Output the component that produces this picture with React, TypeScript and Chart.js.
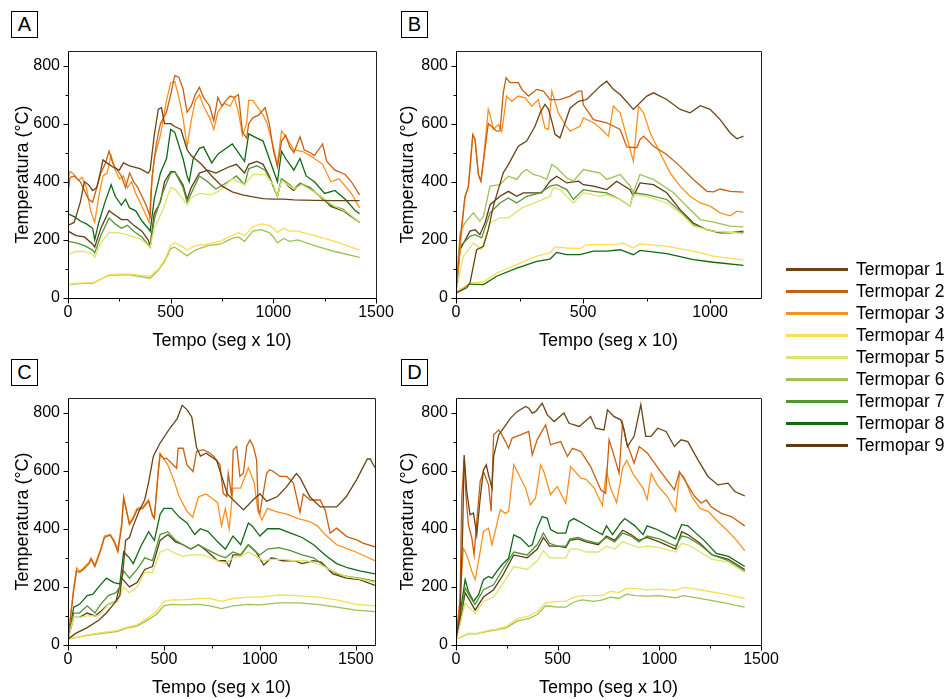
import React, { useEffect, useRef } from 'react';
import { Chart, registerables } from 'chart.js';
Chart.register(...registerables);

type Pt = [number, number];

const SERIES_NAMES = ['Termopar 1', 'Termopar 2', 'Termopar 3', 'Termopar 4', 'Termopar 5', 'Termopar 6', 'Termopar 7', 'Termopar 8', 'Termopar 9'];
const SERIES_COLORS = ['#6B4416', '#C8600F', '#FA911E', '#FFDC50', '#DCE46E', '#9BC355', '#509632', '#0F6914', '#5F3C14'];

const Y_MAJOR = [0, 200, 400, 600, 800];
const Y_MINOR = [100, 300, 500, 700];
const X_LABEL = 'Tempo (seg x 10)';
const Y_LABEL = 'Temperatura (°C)';

// ---------- Panel A ----------
const A_T1: Pt[] = [[0,250],[30,260],[60,330],[80,400],[100,390],[120,370],[140,380],[160,440],[170,475],[190,465],[220,450],[250,440],[270,465],[300,455],[350,445],[390,430],[400,440],[420,560],[440,650],[455,655],[470,600],[500,600],[520,590],[550,580],[580,510],[600,490],[650,460],[700,420],[750,385],[800,365],[850,355],[900,348],[950,342],[1000,340],[1050,340],[1100,338],[1200,336],[1300,335],[1420,335]];
const A_T2: Pt[] = [[0,360],[10,415],[30,420],[60,400],[80,370],[100,340],[120,330],[140,380],[160,430],[180,460],[200,505],[220,460],[240,440],[260,420],[280,380],[300,430],[320,400],[340,380],[360,350],[380,320],[400,280],[410,420],[430,530],[450,600],[480,640],[500,700],[520,765],[540,760],[560,720],[580,640],[600,660],[620,700],[640,725],[660,690],[690,660],[710,610],[730,690],[750,660],[770,680],[790,695],[810,690],[830,700],[850,570],[870,550],[880,600],[900,620],[930,630],[960,655],[980,600],[1000,510],[1020,450],[1040,540],[1060,560],[1080,520],[1100,500],[1130,555],[1150,510],[1180,500],[1200,490],[1240,530],[1260,470],[1300,440],[1350,425],[1380,400],[1420,355]];
const A_T3: Pt[] = [[0,410],[10,435],[30,425],[50,405],[70,415],[90,380],[110,300],[130,260],[150,350],[170,420],[190,430],[210,490],[230,440],[250,410],[270,420],[290,380],[310,400],[330,360],[350,330],[370,300],[395,260],[405,380],[420,480],[450,560],[480,680],[500,740],[520,745],[540,690],[560,620],[580,520],[600,610],[620,680],[640,700],[660,660],[690,620],[710,580],[730,640],[760,670],[790,660],[810,690],[830,640],[850,560],[870,600],[880,680],[900,680],[930,650],[950,630],[970,600],[1000,520],[1020,460],[1040,575],[1060,555],[1100,510],[1140,505],[1180,490],[1200,480],[1240,460],[1280,400],[1320,410],[1380,360],[1420,310]];
const A_T4: Pt[] = [[0,45],[30,50],[80,52],[120,52],[160,65],[200,80],[250,82],[300,82],[360,78],[400,75],[440,100],[470,130],[500,180],[520,190],[560,175],[580,165],[620,180],[680,185],[740,195],[800,215],[830,225],[860,215],[900,245],[940,255],[980,250],[1000,240],[1020,225],[1050,240],[1080,230],[1120,230],[1200,215],[1300,195],[1420,165]];
const A_T5: Pt[] = [[0,150],[40,160],[80,160],[120,150],[130,140],[160,190],[200,225],[240,225],[280,220],[320,210],[360,200],[400,175],[420,240],[460,300],[500,380],[520,375],[560,340],[580,320],[600,345],[640,360],[700,355],[740,370],[800,410],[860,390],[900,425],[960,425],[1000,390],[1020,350],[1040,405],[1080,385],[1100,375],[1140,390],[1200,365],[1260,335],[1300,315],[1360,295],[1420,260]];
const A_T6: Pt[] = [[0,45],[30,48],[80,50],[120,50],[160,65],[200,78],[250,80],[300,80],[360,73],[400,68],[440,95],[470,125],[500,170],[520,175],[560,155],[580,145],[620,165],[680,180],[740,185],[800,205],[830,210],[860,195],[900,230],[940,235],[980,225],[1000,210],[1020,190],[1050,205],[1080,195],[1120,200],[1200,180],[1300,160],[1420,140]];
const A_T7: Pt[] = [[0,195],[40,190],[80,180],[120,165],[130,155],[160,215],[200,275],[230,255],[260,240],[290,250],[320,230],[360,210],[400,175],[420,270],[460,360],[500,430],[520,435],[560,380],[580,330],[600,360],[640,420],[680,400],[720,375],[780,400],[820,420],[860,390],[880,445],[920,455],[960,440],[990,400],[1020,350],[1040,410],[1080,390],[1100,375],[1130,395],[1180,380],[1240,340],[1280,320],[1340,305],[1420,260]];
const A_T8: Pt[] = [[0,290],[30,280],[60,265],[90,255],[120,240],[130,200],[150,260],[180,330],[210,390],[230,350],[260,320],[280,340],[300,310],[330,300],[360,265],[390,240],[400,230],[420,340],[450,430],[480,480],[500,580],[520,570],[560,480],[580,420],[590,400],[610,480],[640,515],[660,520],[700,465],[730,495],[760,510],[800,530],[840,490],[860,470],[880,565],[920,550],[950,540],[990,460],[1020,400],[1040,505],[1060,480],[1100,440],[1130,480],[1160,420],[1200,400],[1250,360],[1300,370],[1350,340],[1400,300],[1420,290]];
const A_T9: Pt[] = [[0,230],[40,215],[80,210],[120,185],[130,175],[160,240],[200,300],[230,285],[260,270],[290,270],[320,250],[360,230],[390,200],[400,180],[420,290],[450,330],[470,400],[500,435],[520,435],[560,390],[580,340],[600,380],[640,430],[680,440],[720,430],[780,450],[820,460],[860,430],[880,460],[920,470],[950,460],[980,420],[1020,350],[1040,410],[1080,380],[1100,370],[1130,395],[1180,375],[1240,345],[1280,315],[1340,300],[1420,260]];

// ---------- Panel B ----------
const B_T1: Pt[] = [[0,17],[42,35],[55,52],[68,109],[81,166],[108,178],[127,235],[147,316],[186,431],[206,459],[245,522],[278,540],[311,591],[331,637],[350,666],[364,649],[377,608],[390,563],[409,551],[429,603],[449,654],[482,677],[514,683],[567,729],[593,746],[619,718],[646,700],[698,649],[751,695],[777,706],[829,683],[882,649],[921,637],[961,662],[1000,649],[1039,614],[1079,568],[1105,548],[1131,557]];
const B_T2: Pt[] = [[0,20],[16,200],[35,345],[49,385],[66,562],[75,545],[88,425],[98,402],[108,470],[127,600],[140,590],[160,574],[173,575],[186,706],[197,758],[213,741],[245,741],[259,718],[285,695],[318,718],[344,712],[370,683],[409,683],[449,695],[482,712],[495,712],[501,665],[541,614],[593,603],[646,580],[672,520],[711,517],[724,545],[738,557],[777,522],[829,494],[882,453],[934,408],[987,367],[1013,365],[1039,375],[1079,367],[1131,364]];
const B_T3: Pt[] = [[0,20],[16,166],[35,350],[49,385],[66,562],[75,545],[88,425],[98,402],[108,476],[127,649],[134,631],[147,580],[167,597],[180,574],[199,695],[219,677],[245,695],[272,689],[298,660],[324,683],[350,585],[364,580],[377,712],[403,637],[429,597],[449,574],[488,591],[501,620],[541,603],[567,585],[600,557],[619,660],[646,637],[685,511],[698,470],[718,660],[738,637],[764,568],[803,499],[843,430],[882,385],[921,350],[961,327],[1000,316],[1039,293],[1079,283],[1105,299],[1131,295]];
const B_T4: Pt[] = [[0,20],[55,52],[108,55],[160,86],[239,115],[318,144],[370,155],[390,176],[436,172],[488,170],[514,184],[619,184],[659,189],[698,172],[724,186],[829,178],[934,161],[1013,144],[1131,130]];
const B_T5: Pt[] = [[0,20],[29,144],[68,189],[101,166],[134,258],[173,276],[206,276],[259,310],[291,321],[331,335],[370,350],[383,380],[409,373],[462,327],[501,362],[567,350],[593,356],[646,339],[685,316],[698,356],[751,350],[829,327],[882,293],[934,247],[1013,230],[1131,222]];
const B_T6: Pt[] = [[0,20],[16,224],[35,258],[68,293],[94,264],[108,281],[134,385],[173,390],[206,419],[239,408],[259,431],[278,442],[304,425],[331,419],[357,408],[377,459],[396,448],[436,413],[462,402],[501,442],[567,430],[593,408],[646,425],[685,385],[698,364],[724,425],[777,408],[856,362],[908,316],[961,270],[1013,261],[1079,247],[1131,245]];
const B_T7: Pt[] = [[0,20],[16,178],[55,212],[75,218],[101,207],[134,293],[173,327],[206,344],[239,327],[278,350],[331,362],[370,385],[396,390],[436,373],[462,339],[501,373],[541,367],[593,362],[646,339],[685,316],[698,362],[751,356],[829,339],[882,299],[934,253],[987,235],[1039,226],[1131,226]];
const B_T8: Pt[] = [[0,20],[55,48],[108,46],[160,75],[239,103],[318,126],[370,134],[396,157],[436,149],[488,149],[541,161],[593,161],[646,166],[698,149],[724,164],[829,153],[934,132],[1013,123],[1131,112]];
const B_T9: Pt[] = [[0,20],[16,166],[55,230],[75,235],[94,218],[114,258],[134,321],[173,350],[206,367],[239,350],[265,362],[304,362],[337,362],[370,402],[396,419],[436,396],[482,402],[501,390],[541,385],[593,373],[632,402],[685,373],[698,350],[724,396],[777,390],[829,362],[882,304],[934,258],[987,235],[1039,224],[1079,224],[1131,230]];

// ---------- Panel C ----------
const C_T1: Pt[] = [[0,20],[40,40],[100,60],[160,85],[200,110],[250,150],[270,170],[290,280],[300,360],[320,370],[340,410],[370,460],[400,500],[420,560],[445,650],[480,695],[530,745],[570,780],[595,825],[620,810],[645,785],[670,680],[690,650],[720,660],[775,635],[830,520],[860,500],[915,465],[965,500],[1000,520],[1035,495],[1090,510],[1140,545],[1190,590],[1210,575],[1260,510],[1315,475],[1400,475],[1450,510],[1505,570],[1560,640],[1575,640],[1600,610]];
const C_T2: Pt[] = [[0,20],[30,190],[45,255],[60,250],[80,260],[110,280],[120,295],[140,270],[170,325],[190,370],[220,378],[240,355],[260,320],[280,410],[290,505],[300,475],[320,415],[340,435],[360,465],[390,470],[420,495],[440,445],[450,435],[470,590],[480,655],[500,640],[513,643],[566,608],[574,677],[600,677],[620,620],[652,597],[670,666],[705,672],[740,660],[760,649],[792,620],[809,522],[827,511],[835,591],[853,511],[861,672],[879,683],[896,580],[914,591],[931,683],[948,706],[966,683],[983,637],[992,465],[1000,453],[1035,591],[1052,603],[1070,597],[1105,580],[1140,580],[1175,557],[1209,456],[1226,520],[1262,499],[1314,499],[1340,465],[1366,385],[1400,402],[1453,373],[1505,362],[1540,350],[1600,338]];
const C_T3: Pt[] = [[0,20],[30,200],[45,265],[60,255],[80,265],[110,285],[120,300],[140,275],[170,330],[190,375],[220,380],[240,360],[260,330],[280,420],[290,510],[300,480],[320,420],[340,440],[360,470],[390,475],[420,500],[440,450],[450,440],[470,600],[480,660],[500,640],[520,620],[550,570],[580,510],[620,460],[650,440],[680,510],[720,520],[750,505],[780,490],[800,410],[820,470],[840,400],[860,540],[900,540],[940,610],[970,560],[990,460],[1010,430],[1040,470],[1080,460],[1140,450],[1200,435],[1260,425],[1300,410],[1340,380],[1400,345],[1440,335],[1500,320],[1600,290]];
const C_T4: Pt[] = [[0,20],[100,35],[200,45],[260,50],[300,60],[360,70],[420,95],[460,115],[500,150],[540,155],[600,155],[680,160],[740,160],[800,150],[860,160],[940,165],[1000,165],[1100,172],[1200,170],[1300,165],[1400,155],[1500,140],[1600,135]];
const C_T5: Pt[] = [[0,20],[30,95],[60,95],[100,100],[160,100],[210,140],[260,150],[290,200],[320,180],[360,200],[400,250],[440,250],[480,320],[520,330],[560,315],[600,305],[640,310],[700,310],[780,290],[820,280],[860,300],[900,305],[940,320],[980,305],[1020,290],[1060,295],[1120,295],[1180,290],[1240,290],[1300,280],[1380,255],[1450,235],[1520,228],[1600,215]];
const C_T6: Pt[] = [[0,20],[100,33],[200,42],[260,47],[300,57],[360,65],[420,88],[460,105],[500,135],[540,140],[600,138],[680,140],[740,135],[800,125],[860,135],[940,140],[1000,138],[1100,145],[1200,145],[1300,140],[1400,130],[1500,120],[1600,115]];
const C_T7: Pt[] = [[0,20],[30,110],[60,110],[100,135],[140,110],[170,140],[210,170],[250,180],[270,200],[290,255],[320,230],[360,260],[400,300],[440,290],[480,380],[520,390],[560,360],[600,345],[640,330],[680,345],[720,330],[780,310],[820,300],[860,320],[900,310],[940,345],[980,320],[1000,310],[1040,330],[1100,335],[1160,325],[1220,310],[1280,300],[1340,270],[1400,245],[1460,235],[1520,230],[1600,220]];
const C_T8: Pt[] = [[0,20],[30,130],[60,140],[100,170],[130,175],[160,200],[200,230],[240,215],[270,210],[290,320],[320,300],[340,280],[380,340],[420,390],[450,360],[480,450],[500,470],[540,470],[580,440],[620,420],[660,380],[690,400],[730,390],[780,355],[820,330],[860,375],[900,345],[940,420],[960,410],[1000,375],[1040,400],[1100,400],[1160,385],[1220,370],[1280,345],[1340,310],[1400,280],[1460,265],[1520,255],[1600,245]];
const C_T9: Pt[] = [[0,20],[30,95],[60,95],[100,110],[140,100],[170,115],[210,140],[250,150],[280,230],[320,200],[360,215],[400,260],[440,270],[480,360],[520,380],[560,355],[600,345],[640,330],[680,345],[720,325],[780,290],[820,290],[840,270],[860,310],[900,310],[940,345],[980,320],[1020,275],[1060,300],[1120,290],[1180,290],[1220,280],[1280,290],[1320,285],[1380,245],[1450,230],[1520,225],[1600,205]];

// ---------- Panel D ----------
const D_T1: Pt[] = [[0,20],[20,100],[33,400],[40,654],[53,528],[69,448],[86,454],[102,379],[119,505],[135,602],[149,620],[160,585],[177,540],[185,649],[210,723],[234,746],[267,780],[300,803],[342,821],[358,815],[375,798],[391,803],[424,832],[449,792],[482,769],[531,798],[556,763],[606,752],[662,786],[687,746],[728,740],[745,809],[778,786],[810,775],[827,740],[843,683],[876,718],[909,827],[933,718],[959,718],[992,746],[1033,735],[1074,683],[1107,706],[1140,700],[1190,637],[1239,580],[1288,551],[1338,557],[1371,528],[1420,513]];
const D_T2: Pt[] = [[0,20],[20,150],[28,505],[40,642],[50,505],[61,414],[78,368],[89,311],[102,425],[119,563],[135,597],[160,551],[173,460],[185,723],[210,740],[226,723],[243,700],[259,677],[276,712],[317,723],[358,735],[375,654],[399,706],[441,758],[465,689],[515,700],[548,649],[573,677],[614,666],[662,614],[712,534],[736,522],[753,706],[778,649],[802,591],[819,764],[835,706],[876,626],[901,683],[942,660],[1000,603],[1074,534],[1099,597],[1124,568],[1174,511],[1206,488],[1231,499],[1255,476],[1305,453],[1354,442],[1420,410]];
const D_T3: Pt[] = [[0,20],[20,162],[36,333],[53,310],[78,253],[94,225],[119,322],[135,391],[160,402],[177,345],[218,465],[243,453],[259,460],[284,620],[309,586],[342,540],[366,482],[391,505],[416,620],[432,597],[465,517],[498,545],[540,488],[564,614],[614,574],[640,570],[680,540],[720,480],[740,600],[760,540],[790,490],[820,610],[840,635],[870,590],[920,540],[940,500],[960,590],[990,550],[1040,510],[1080,460],[1100,590],[1120,580],[1160,510],[1200,470],[1240,460],[1280,430],[1340,390],[1380,360],[1420,325]];
const D_T4: Pt[] = [[0,20],[60,40],[100,40],[160,50],[200,55],[250,65],[300,90],[360,100],[400,115],[440,145],[500,150],[540,150],[580,165],[620,170],[680,170],[720,170],[760,185],[800,180],[840,195],[880,195],[940,190],[1000,192],[1080,188],[1120,198],[1160,195],[1240,185],[1320,175],[1420,160]];
const D_T5: Pt[] = [[0,20],[20,70],[45,145],[70,125],[94,110],[135,150],[185,165],[234,215],[284,270],[350,260],[400,290],[430,325],[460,300],[500,300],[540,300],[560,330],[600,330],[640,320],[700,320],[740,340],[780,330],[820,355],[860,345],[900,335],[940,340],[1000,335],[1080,320],[1110,350],[1140,345],[1200,320],[1260,295],[1340,285],[1420,250]];
const D_T6: Pt[] = [[0,20],[60,38],[100,38],[160,48],[200,52],[250,60],[300,82],[360,92],[400,105],[440,135],[500,130],[540,130],[580,148],[620,155],[680,150],[720,155],[760,165],[800,160],[840,175],[880,170],[940,168],[1000,170],[1080,162],[1120,170],[1160,165],[1240,155],[1320,145],[1420,130]];
const D_T7: Pt[] = [[0,20],[20,90],[45,196],[70,165],[94,139],[135,190],[185,207],[234,265],[284,320],[350,310],[399,345],[430,385],[460,350],[498,340],[540,340],[560,365],[600,370],[640,360],[700,350],[740,370],[780,355],[820,385],[860,375],[900,355],[940,375],[1000,365],[1080,340],[1110,375],[1140,370],[1200,345],[1260,310],[1340,290],[1420,255]];
const D_T8: Pt[] = [[0,20],[20,104],[45,225],[61,185],[86,150],[111,173],[135,225],[160,236],[177,230],[201,253],[226,276],[259,299],[284,379],[317,368],[358,339],[375,345],[399,402],[424,442],[449,436],[465,397],[498,385],[540,385],[556,425],[580,435],[620,420],[680,395],[720,380],[740,410],[770,380],[810,420],[830,435],[880,410],[920,380],[940,410],[980,400],[1040,380],[1080,365],[1110,415],[1140,410],[1180,385],[1220,360],[1280,315],[1340,305],[1420,270]];
const D_T9: Pt[] = [[0,20],[20,80],[45,180],[70,150],[94,120],[135,165],[185,190],[234,245],[284,310],[350,300],[400,330],[430,370],[460,340],[500,340],[540,335],[560,360],[600,365],[640,355],[700,345],[740,375],[780,360],[820,395],[860,380],[900,360],[940,370],[1000,355],[1080,330],[1110,390],[1140,380],[1200,350],[1260,310],[1340,295],[1420,260]];

const A_SERIES = [A_T1, A_T2, A_T3, A_T4, A_T5, A_T6, A_T7, A_T8, A_T9];
const B_SERIES = [B_T1, B_T2, B_T3, B_T4, B_T5, B_T6, B_T7, B_T8, B_T9];
const C_SERIES = [C_T1, C_T2, C_T3, C_T4, C_T5, C_T6, C_T7, C_T8, C_T9];
const D_SERIES = [D_T1, D_T2, D_T3, D_T4, D_T5, D_T6, D_T7, D_T8, D_T9];

const X_MAJOR_1500 = [0, 500, 1000, 1500];
const X_MINOR_1500 = [250, 750, 1250];
const X_MAJOR_1200 = [0, 500, 1000];
const X_MINOR_1200 = [250, 750];

const FONT = "'Liberation Sans', Arial, Helvetica, sans-serif";

const framePlugin = {
  id: 'frame',
  afterDatasetsDraw(chart: any, _args: any, opts: any) {
    const { ctx, chartArea } = chart;
    const xs = chart.scales.x;
    const ys = chart.scales.y;
    const L = Math.round(chartArea.left) + 0.5;
    const T = Math.round(chartArea.top) + 0.5;
    const R = Math.round(chartArea.right) + 0.5;
    const B = Math.round(chartArea.bottom) + 0.5;
    ctx.save();
    ctx.strokeStyle = '#222';
    ctx.lineWidth = 1;
    ctx.beginPath();
    ctx.moveTo(L, T); ctx.lineTo(R, T); ctx.lineTo(R, B);
    ctx.stroke();
    ctx.strokeStyle = '#000';
    ctx.beginPath();
    ctx.moveTo(L, T); ctx.lineTo(L, B); ctx.lineTo(R, B);
    (opts.yMajor as number[]).forEach((v) => { const p = Math.round(ys.getPixelForValue(v)) + 0.5; ctx.moveTo(L - 5, p); ctx.lineTo(L, p); });
    (opts.yMinor as number[]).forEach((v) => { const p = Math.round(ys.getPixelForValue(v)) + 0.5; ctx.moveTo(L - 3, p); ctx.lineTo(L, p); });
    (opts.xMajor as number[]).forEach((v) => { const p = Math.round(xs.getPixelForValue(v)) + 0.5; ctx.moveTo(p, B); ctx.lineTo(p, B + 5); });
    (opts.xMinor as number[]).forEach((v) => { const p = Math.round(xs.getPixelForValue(v)) + 0.5; ctx.moveTo(p, B); ctx.lineTo(p, B + 3); });
    ctx.stroke();
    ctx.restore();
  },
};

type PanelProps = {
  left: number; top: number; plotW: number; xMax: number;
  xMajor: number[]; xMinor: number[]; series: Pt[][]; titleOffset: number;
};

const Y_AXIS_W = 68;
const PAD_TOP = 10;
const PLOT_H = 247;
const X_AXIS_H = 54;
const PAD_RIGHT = 26;

function Panel({ left, top, plotW, xMax, xMajor, xMinor, series, titleOffset }: PanelProps) {
  const ref = useRef<HTMLCanvasElement | null>(null);
  const width = Y_AXIS_W + plotW + PAD_RIGHT;
  const height = PAD_TOP + PLOT_H + X_AXIS_H;
  useEffect(() => {
    if (!ref.current) return;
    const chart = new Chart(ref.current, {
      type: 'line',
      data: {
        datasets: series.map((pts, i) => ({
          label: SERIES_NAMES[i],
          data: pts.map(([x, y]) => ({ x, y })),
          borderColor: SERIES_COLORS[i],
          backgroundColor: SERIES_COLORS[i],
          borderWidth: 1.3,
          pointRadius: 0,
          tension: 0,
          fill: false,
        })),
      },
      options: {
        animation: false,
        responsive: false,
        maintainAspectRatio: false,
        devicePixelRatio: 1,
        events: [],
        layout: { padding: { left: 0, top: PAD_TOP, right: PAD_RIGHT, bottom: 0 } },
        plugins: {
          legend: { display: false },
          tooltip: { enabled: false },
          frame: { xMajor, xMinor, yMajor: Y_MAJOR, yMinor: Y_MINOR },
        } as any,
        scales: {
          x: {
            type: 'linear',
            min: 0,
            max: xMax,
            afterBuildTicks: (s: any) => { s.ticks = xMajor.map((v) => ({ value: v })); },
            afterFit: (s: any) => { s.height = X_AXIS_H; s.paddingLeft = 0; s.paddingRight = 0; },
            grid: { display: false, drawTicks: false },
            border: { display: false },
            ticks: { padding: 5, autoSkip: false, maxRotation: 0, color: '#000', font: { family: FONT, size: 16 }, callback: (v: any) => String(v) },
            title: { display: true, text: X_LABEL, color: '#000', font: { family: FONT, size: 18 }, padding: { top: 0, bottom: 0 } },
          },
          y: {
            type: 'linear',
            min: 0,
            max: 850,
            afterBuildTicks: (s: any) => { s.ticks = Y_MAJOR.map((v) => ({ value: v })); },
            afterFit: (s: any) => { s.width = Y_AXIS_W; s.paddingTop = 0; s.paddingBottom = 0; },
            grid: { display: false, drawTicks: false },
            border: { display: false },
            ticks: { padding: 8, autoSkip: false, color: '#000', font: { family: FONT, size: 16 }, callback: (v: any) => String(v) },
            title: { display: true, text: Y_LABEL, color: '#000', font: { family: FONT, size: 18 }, padding: { top: titleOffset, bottom: 0 } },
          },
        },
      } as any,
      plugins: [framePlugin],
    });
    return () => chart.destroy();
  }, []);
  return (
    <canvas
      ref={ref}
      width={width}
      height={height}
      style={{ position: 'absolute', left, top, width, height }}
    />
  );
}

function PanelLabel({ left, top, text }: { left: number; top: number; text: string }) {
  return (
    <div
      style={{
        position: 'absolute', left, top, width: 27, height: 27, boxSizing: 'border-box',
        border: '1px solid #000', fontFamily: FONT, fontSize: 20, lineHeight: '25px',
        textAlign: 'center', color: '#000', background: '#fff',
      }}
    >
      {text}
    </div>
  );
}

export default function App() {
  return (
    <div style={{ position: 'absolute', left: 0, top: 0, width: 950, height: 699, background: '#fff', overflow: 'hidden' }}>
      <Panel left={0} top={51 - PAD_TOP} plotW={308} xMax={1500} xMajor={X_MAJOR_1500} xMinor={X_MINOR_1500} series={A_SERIES} titleOffset={12} />
      <Panel left={388} top={51 - PAD_TOP} plotW={305} xMax={1200} xMajor={X_MAJOR_1200} xMinor={X_MINOR_1200} series={B_SERIES} titleOffset={9} />
      <Panel left={0} top={398 - PAD_TOP} plotW={307} xMax={1600} xMajor={X_MAJOR_1500} xMinor={X_MINOR_1500} series={C_SERIES} titleOffset={12} />
      <Panel left={388} top={398 - PAD_TOP} plotW={305} xMax={1500} xMajor={X_MAJOR_1500} xMinor={X_MINOR_1500} series={D_SERIES} titleOffset={9} />
      <PanelLabel left={11} top={11} text="A" />
      <PanelLabel left={401} top={11} text="B" />
      <PanelLabel left={11} top={359} text="C" />
      <PanelLabel left={401} top={359} text="D" />
      {SERIES_NAMES.map((name, i) => {
        const cy = 269 + 22 * i;
        return (
          <React.Fragment key={name}>
            <div style={{ position: 'absolute', left: 786, top: cy - 1.5, width: 62, height: 3, background: SERIES_COLORS[i] }} />
            <div style={{ position: 'absolute', left: 856, top: cy - 11, height: 22, lineHeight: '22px', fontFamily: FONT, fontSize: 17.5, color: '#000', whiteSpace: 'nowrap' }}>{name}</div>
          </React.Fragment>
        );
      })}
    </div>
  );
}
